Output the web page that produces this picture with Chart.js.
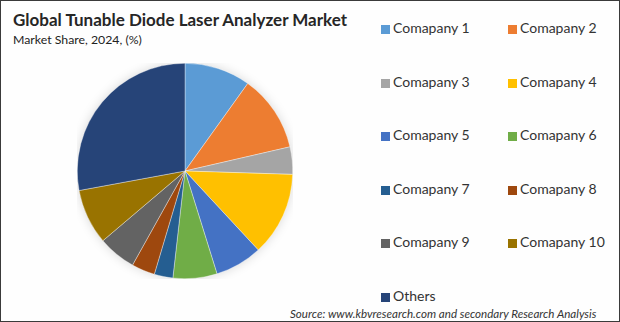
<!DOCTYPE html>
<html lang="en">
<head>
  <meta charset="UTF-8" />
  <title>Global Tunable Diode Laser Analyzer Market</title>
  <script src="https://cdn.jsdelivr.net/npm/chart.js"></script>
  <style>
    body {
      margin: 0;
      background: #fff;
      font-family: Lato, "Open Sans", sans-serif;
    }
    .frame {
      position: relative;
      width: 618px;
      height: 320px;
      border: 1px solid #3a3a3a;
      background: #fefefe;
      overflow: hidden;
    }
    .title {
      position: absolute;
      left: 12px;
      top: 8px;
      font-size: 17px;
      font-weight: bold;
      color: #262626;
      white-space: nowrap;
    }
    .subtitle {
      position: absolute;
      left: 12px;
      top: 31px;
      font-size: 12.3px;
      color: #222;
    }
    .pie {
      position: absolute;
      left: 76px;
      top: 62px;
      width: 216px;
      height: 216px;
    }
    .legend {
      position: absolute;
      left: 380px;
      top: 18px;
      width: 236px;
      display: grid;
      grid-template-columns: 127px 109px;
      grid-auto-rows: 53.5px;
      font-size: 14px;
      color: #333;
    }
    .legend span.sw {
      display: inline-block;
      width: 9px;
      height: 9px;
      margin-right: 3px;
      vertical-align: -1px;
    }
    .source {
      position: absolute;
      left: 289px;
      top: 306px;
      font-size: 11.6px;
      font-style: italic;
      color: #333;
      white-space: nowrap;
    }
  </style>
</head>
<body>
  <div class="frame">
    <div class="title">Global Tunable Diode Laser Analyzer Market</div>
    <div class="subtitle">Market Share, 2024, (%)</div>
    <div class="pie"><canvas id="pieChart"></canvas></div>
    <div class="legend" id="legend"></div>
    <div class="source">Source: www.kbvresearch.com and secondary Research Analysis</div>
  </div>

  <script>
    const labels = ['Comapany 1', 'Comapany 2', 'Comapany 3', 'Comapany 4', 'Comapany 5',
      'Comapany 6', 'Comapany 7', 'Comapany 8', 'Comapany 9', 'Comapany 10', 'Others'];
    const shares = [9.9, 11.5, 4.1, 12.6, 7.1, 6.6, 2.8, 3.5, 5.7, 8.3, 27.9];
    const colors = ['#5B9BD5', '#ED7D31', '#A5A5A5', '#FFC000', '#4472C4', '#70AD47',
      '#255E91', '#9E480E', '#636363', '#997300', '#264478'];

    // soft shadow under the pie, like the original
    const pieShadow = {
      id: 'pieShadow',
      beforeDatasetsDraw(chart) {
        const arc = chart.getDatasetMeta(0).data[0];
        if (!arc) return;
        const ctx = chart.ctx;
        ctx.save();
        ctx.shadowColor = 'rgba(0,0,0,0.18)';
        ctx.shadowBlur = 12;
        ctx.fillStyle = '#fff';
        ctx.beginPath();
        ctx.arc(arc.x, arc.y, arc.outerRadius - 1, 0, Math.PI * 2);
        ctx.fill();
        ctx.restore();
      }
    };

    new Chart(document.getElementById('pieChart'), {
      type: 'pie',
      data: {
        labels: labels,
        datasets: [{
          data: shares,
          backgroundColor: colors,
          borderColor: 'rgba(255,255,255,0.6)',
          borderWidth: 0.6
        }]
      },
      options: {
        responsive: true,
        maintainAspectRatio: false,
        animation: false,
        layout: { padding: 0 },
        plugins: {
          legend: { display: false },
          tooltip: { enabled: false }
        }
      },
      plugins: [pieShadow]
    });

    const legend = document.getElementById('legend');
    labels.forEach((name, i) => {
      const item = document.createElement('div');
      item.innerHTML = '<span class="sw" style="background:' + colors[i] + '"></span>' + name;
      legend.appendChild(item);
    });
  </script>
</body>
</html>
